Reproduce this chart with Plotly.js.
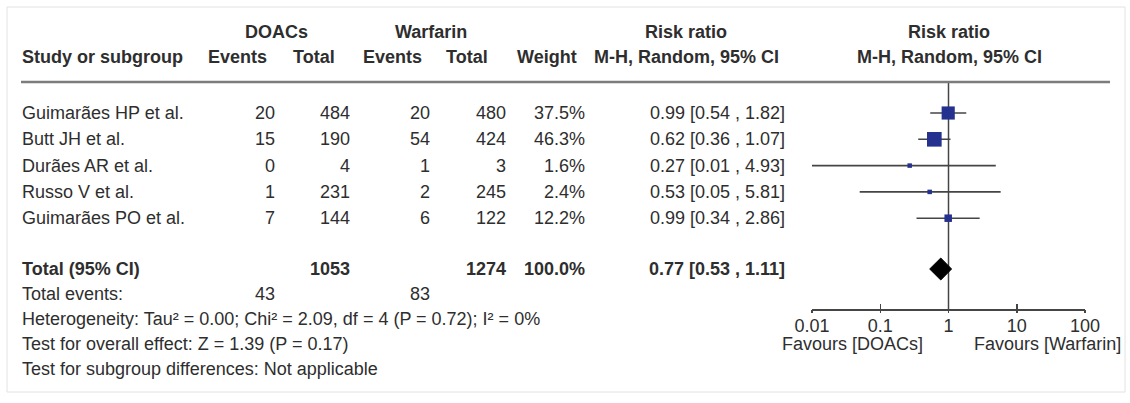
<!DOCTYPE html>
<html>
<head>
<meta charset="utf-8">
<script src="https://cdn.plot.ly/plotly-3.0.1.min.js"></script>
<style>body{margin:0;background:#fff}#chart{width:1130px;height:403px}</style>
</head>
<body>
<div id="chart"></div>
<script>
// ---- data ----
const studies = ['Guimarães HP et al.', 'Butt JH et al.', 'Durães AR et al.', 'Russo V et al.', 'Guimarães PO et al.'];
const doacEvents = [20, 15, 0, 1, 7];
const doacTotal = [484, 190, 4, 231, 144];
const warfEvents = [20, 54, 1, 2, 6];
const warfTotal = [480, 424, 3, 245, 122];
const weights = [37.5, 46.3, 1.6, 2.4, 12.2];
const rr = [0.99, 0.62, 0.27, 0.53, 0.99];
const ciLow = [0.54, 0.36, 0.01, 0.05, 0.34];
const ciHigh = [1.82, 1.07, 4.93, 5.81, 2.86];
const totalDoac = 1053;
const totalWarf = 1274;
const totalWeight = 100.0;
const totalEventsDoac = 43;
const totalEventsWarf = 83;
const pooledRR = 0.77;
const pooledLow = 0.53;
const pooledHigh = 1.11;
const tickVals = [0.01, 0.1, 1, 10, 100];
const tickText = ['0.01', '0.1', '1', '10', '100'];
const statLines = [
  'Heterogeneity: Tau² = 0.00; Chi² = 2.09, df = 4 (P = 0.72); I² = 0%',
  'Test for overall effect: Z = 1.39 (P = 0.17)',
  'Test for subgroup differences: Not applicable'
];

// ---- layout constants ----
const W = 1130, H = 403;
const FONT = '"Liberation Sans", Arial, Helvetica, sans-serif';
const TXT = '#2e2e2e';
const FS = 18;
const rowY0 = 113, rowStep = 26.3;
const rowY = i => rowY0 + i * rowStep;
const totalY = 269;
const eventsY = 294;
const statsY = [319, 344, 369];
const headY1 = 32, headY2 = 57, ruleY = 82, axisY = 309;
const px = x => x / W;
const col = {name: 21, dEv: 276, dTot: 351, wEv: 431, wTot: 507, wt: 586, ci: 786};
const fmtCI = (m, l, h) => m.toFixed(2) + ' [' + l.toFixed(2) + ' , ' + h.toFixed(2) + ']';

const annotations = [];
function ann(text, x, y, anchor, bold) {
  annotations.push({
    text: bold ? '<b>' + text + '</b>' : text,
    xref: 'paper', yref: 'y', x: px(x), y: y,
    xanchor: anchor, yanchor: 'middle', showarrow: false,
    font: {family: FONT, size: FS, color: TXT}, borderpad: 0
  });
}

// headers
ann('DOACs', 276, headY1, 'center', true);
ann('Warfarin', 431, headY1, 'center', true);
ann('Risk ratio', 686, headY1, 'center', true);
ann('Risk ratio', 949, headY1, 'center', true);
ann('Study or subgroup', col.name, headY2, 'left', true);
ann('Events', 237, headY2, 'center', true);
ann('Total', 314, headY2, 'center', true);
ann('Events', 392, headY2, 'center', true);
ann('Total', 467, headY2, 'center', true);
ann('Weight', 578, headY2, 'right', true);
ann('M-H, Random, 95% CI', 686, headY2, 'center', true);
ann('M-H, Random, 95% CI', 949, headY2, 'center', true);

// study rows
studies.forEach((s, i) => {
  const y = rowY(i);
  ann(s, col.name, y, 'left');
  ann(String(doacEvents[i]), col.dEv, y, 'right');
  ann(String(doacTotal[i]), col.dTot, y, 'right');
  ann(String(warfEvents[i]), col.wEv, y, 'right');
  ann(String(warfTotal[i]), col.wTot, y, 'right');
  ann(weights[i].toFixed(1) + '%', col.wt, y, 'right');
  ann(fmtCI(rr[i], ciLow[i], ciHigh[i]), col.ci, y, 'right');
});

// total rows
ann('Total (95% CI)', col.name, totalY, 'left', true);
ann(String(totalDoac), col.dTot, totalY, 'right', true);
ann(String(totalWarf), col.wTot, totalY, 'right', true);
ann(totalWeight.toFixed(1) + '%', col.wt, totalY, 'right', true);
ann(fmtCI(pooledRR, pooledLow, pooledHigh), col.ci, totalY, 'right', true);
ann('Total events:', col.name, eventsY, 'left');
ann(String(totalEventsDoac), col.dEv, eventsY, 'right');
ann(String(totalEventsWarf), col.wEv, eventsY, 'right');
statLines.forEach((t, i) => ann(t, col.name, statsY[i], 'left'));

// favours labels
ann('Favours [DOACs]', 852, 344, 'center');
ann('Favours [Warfarin]', 1122, 344, 'right');

// ---- traces ----
const ys = studies.map((_, i) => rowY(i));
const ciX = [], ciY = [];
studies.forEach((_, i) => { ciX.push(ciLow[i], ciHigh[i], null); ciY.push(ys[i], ys[i], null); });

const traces = [
  {x: ciX, y: ciY, mode: 'lines', type: 'scatter', line: {color: '#454545', width: 1.6}, hoverinfo: 'skip', showlegend: false},
  {x: rr, y: ys, mode: 'markers', type: 'scatter', cliponaxis: false, opacity: 1,
   marker: {symbol: 'square', color: '#24318f', opacity: 1,
            size: weights.map(w => Math.max(4.5, 2.15 * Math.sqrt(w))), line: {width: 0}},
   showlegend: false},
  {x: [pooledLow, pooledRR, pooledHigh, pooledRR, pooledLow],
   y: [totalY, totalY - 11, totalY, totalY + 11, totalY],
   mode: 'lines', type: 'scatter', fill: 'toself', fillcolor: '#000', line: {color: '#000', width: 1},
   showlegend: false, hoverinfo: 'skip'},
  {x: [1], y: [axisY], xaxis: 'x2', mode: 'markers', marker: {opacity: 0}, showlegend: false, hoverinfo: 'skip'}
];

const axisCommon = {
  type: 'log', range: [-2, 2], domain: [812 / W, 1085 / W],
  anchor: 'free', position: 1 - axisY / H,
  tickvals: tickVals, ticktext: tickText,
  showgrid: false, zeroline: false, tickcolor: '#454545', tickwidth: 1.5
};

const layout = {
  width: W, height: H,
  margin: {l: 0, r: 0, t: 0, b: 0},
  paper_bgcolor: '#ffffff', plot_bgcolor: 'rgba(0,0,0,0)',
  showlegend: false,
  xaxis: Object.assign({}, axisCommon, {
    showline: true, linecolor: '#454545', linewidth: 1.5,
    ticks: 'inside', ticklen: 5,
    tickfont: {family: FONT, size: FS, color: TXT}
  }),
  xaxis2: Object.assign({}, axisCommon, {
    overlaying: 'x', showline: false, ticks: 'outside', ticklen: 3, showticklabels: false
  }),
  yaxis: {range: [H, 0], domain: [0, 1], visible: false, fixedrange: true},
  shapes: [
    {type: 'rect', xref: 'paper', yref: 'y', x0: px(7), x1: px(1125), y0: 7, y1: 392,
     line: {color: '#e2e2e2', width: 1}, layer: 'below'},
    {type: 'line', xref: 'paper', yref: 'y', x0: px(21), x1: px(1110), y0: ruleY, y1: ruleY,
     line: {color: '#7c7c7c', width: 2.5}},
    {type: 'line', xref: 'x', yref: 'y', x0: 1, x1: 1, y0: ruleY, y1: axisY,
     line: {color: '#454545', width: 1.5}, layer: 'below'}
  ],
  annotations: annotations
};

Plotly.newPlot('chart', traces, layout, {displayModeBar: false, staticPlot: true});
</script>
</body>
</html>
